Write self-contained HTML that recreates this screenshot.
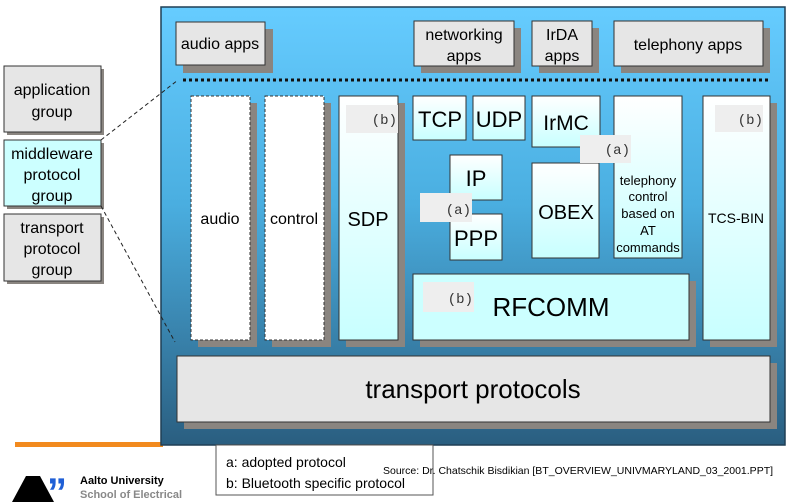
<!DOCTYPE html>
<html><head><meta charset="utf-8"><style>
body{margin:0;width:800px;height:502px;overflow:hidden;background:#fff}
svg{display:block}
text{font-family:"Liberation Sans",sans-serif;fill:#000}
.m{font-family:"Liberation Mono",monospace;fill:#333}
</style></head><body>
<svg width="800" height="502" viewBox="0 0 800 502">
<defs>
<linearGradient id="bg" x1="0" y1="0" x2="0" y2="1">
<stop offset="0" stop-color="#66ccff"/><stop offset="0.45" stop-color="#4aaee0"/><stop offset="1" stop-color="#2a5e80"/>
</linearGradient>
<linearGradient id="cy" x1="0" y1="0" x2="0" y2="1">
<stop offset="0" stop-color="#ffffff"/><stop offset="1" stop-color="#c8ffff"/>
</linearGradient>
</defs>
<rect x="15" y="442" width="148" height="5" fill="#f28a1e"/>
<rect x="161" y="7" width="624" height="438" fill="url(#bg)" stroke="#1f3f55" stroke-width="1.5"/>
<g fill="#8a8580">
<rect x="183" y="29" width="90" height="44"/>
<rect x="421" y="28" width="100" height="45"/>
<rect x="539" y="28" width="60" height="45"/>
<rect x="621" y="28" width="149" height="45"/>
<rect x="198" y="103" width="59" height="244"/>
<rect x="272" y="103" width="59" height="244"/>
<rect x="346" y="103" width="59" height="244"/>
<rect x="710" y="103" width="67" height="244"/>
<rect x="420" y="281" width="276" height="66"/>
<rect x="184" y="363" width="593" height="66"/>
<rect x="7" y="69" width="97" height="66"/>
<rect x="7" y="143" width="97" height="66"/>
<rect x="7" y="217" width="97" height="67"/>
</g>
<g stroke="#333" stroke-width="1">
<rect x="176" y="22" width="89" height="43" fill="#e6e6e6"/>
<rect x="414" y="21" width="100" height="45" fill="#e6e6e6"/>
<rect x="532" y="21" width="60" height="45" fill="#e6e6e6"/>
<rect x="614" y="21" width="149" height="45" fill="#e6e6e6"/>
<rect x="4" y="66" width="97" height="66" fill="#e6e6e6"/>
<rect x="4" y="140" width="97" height="66" fill="#ccffff"/>
<rect x="4" y="214" width="97" height="67" fill="#e6e6e6"/>
<rect x="191" y="96" width="59" height="244" fill="#fff" stroke-dasharray="3,2"/>
<rect x="265" y="96" width="59" height="244" fill="#fff" stroke-dasharray="3,2"/>
<rect x="339" y="96" width="59" height="244" fill="url(#cy)"/>
<rect x="413" y="96" width="53" height="44" fill="url(#cy)"/>
<rect x="473" y="96" width="52" height="44" fill="url(#cy)"/>
<rect x="532" y="96" width="68" height="51" fill="url(#cy)"/>
<rect x="614" y="96" width="68" height="162" fill="url(#cy)"/>
<rect x="703" y="96" width="67" height="244" fill="url(#cy)"/>
<rect x="450" y="155" width="52" height="45" fill="url(#cy)"/>
<rect x="450" y="214" width="52" height="46" fill="url(#cy)"/>
<rect x="532" y="163" width="67" height="95" fill="url(#cy)"/>
<rect x="413" y="274" width="276" height="66" fill="#ccffff"/>
<rect x="177" y="356" width="593" height="66" fill="#e6e6e6"/>
</g>
<line x1="183" y1="80" x2="770" y2="80" stroke="#111" stroke-width="3" stroke-dasharray="3,3"/>
<line x1="101" y1="140" x2="178" y2="80" stroke="#222" stroke-dasharray="4,3"/>
<line x1="101" y1="206" x2="175" y2="342" stroke="#222" stroke-dasharray="4,3"/>
<g fill="#eee">
<rect x="346" y="105" width="52" height="28"/><rect x="715" y="105" width="48" height="27"/>
<rect x="580" y="135" width="51" height="28"/><rect x="420" y="193" width="52" height="29"/>
<rect x="423" y="282" width="51" height="30"/>
</g>
<g font-size="14" text-anchor="end">
<text x="397" y="124" class="m">(b)</text><text x="763" y="124" class="m">(b)</text>
<text x="630" y="154" class="m">(a)</text><text x="471" y="214" class="m">(a)</text>
<text x="473" y="303" class="m">(b)</text>
</g>
<g font-size="16" text-anchor="middle">
<text x="220" y="49">audio apps</text>
<text x="464" y="40">networking</text><text x="464" y="61">apps</text>
<text x="562" y="40">IrDA</text><text x="562" y="61">apps</text>
<text x="688" y="50">telephony apps</text>
<text x="52" y="95">application</text><text x="52" y="117">group</text>
<text x="52" y="159">middleware</text><text x="52" y="180">protocol</text><text x="52" y="201">group</text>
<text x="52" y="233">transport</text><text x="52" y="254">protocol</text><text x="52" y="275">group</text>
<text x="220" y="224">audio</text><text x="294" y="224">control</text>
<text x="368" y="226" font-size="20">SDP</text>
<text x="440" y="127" font-size="22">TCP</text><text x="499" y="127" font-size="22">UDP</text>
<text x="566" y="130" font-size="21">IrMC</text>
<text x="476" y="186" font-size="22">IP</text><text x="476" y="246" font-size="22">PPP</text>
<text x="566" y="219" font-size="20">OBEX</text>
<text x="648" y="185" font-size="13">telephony</text><text x="648" y="201" font-size="13">control</text>
<text x="648" y="218" font-size="13">based on</text><text x="648" y="235" font-size="13">AT</text><text x="648" y="252" font-size="13">commands</text>
<text x="736" y="223" font-size="14">TCS-BIN</text>
<text x="551" y="316" font-size="26">RFCOMM</text>
<text x="473" y="398" font-size="26">transport protocols</text>
</g>
<rect x="216" y="445" width="217" height="50" fill="#fff" stroke="#555"/>
<text x="226" y="467" font-size="14">a: adopted protocol</text>
<text x="226" y="488" font-size="14">b: Bluetooth specific protocol</text>
<text x="383" y="474" font-size="10.5" fill="#333">Source: Dr. Chatschik Bisdikian [BT_OVERVIEW_UNIVMARYLAND_03_2001.PPT]</text>
<polygon points="12,502 26,476 40,476 54,502" fill="#000"/>
<text x="47" y="506" font-size="40" font-weight="bold" style="fill:#1f5fd6">”</text>
<text x="80" y="484" font-size="11" font-weight="bold">Aalto University</text>
<text x="80" y="498" font-size="11" font-weight="bold" style="fill:#888">School of Electrical</text>
</svg>
</body></html>
